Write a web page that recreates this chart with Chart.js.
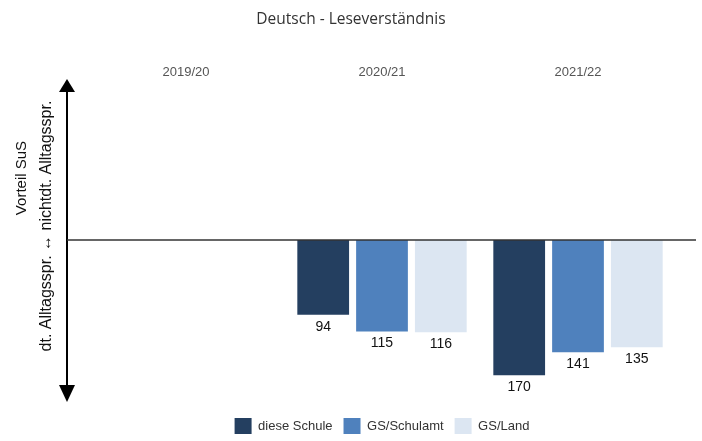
<!DOCTYPE html>
<html>
<head>
<meta charset="utf-8">
<script src="https://cdn.jsdelivr.net/npm/chart.js@4.4.1/dist/chart.umd.min.js"></script>
<style>
  html, body { margin: 0; padding: 0; background: #fff; }
  #wrap { width: 702px; height: 441px; position: relative; }
</style>
</head>
<body>
<div id="wrap"><canvas id="chart"></canvas></div>
<script>
// school years and results per group (no data for 2019/20)
const years = ['2019/20', '2020/21', '2021/22'];
const seriesNames = ['diese Schule', 'GS/Schulamt', 'GS/Land'];
const dieseSchule = [null, 94, 170];
const gsSchulamt = [null, 115, 141];
const gsLand = [null, 116, 135];
const seriesColors = ['#243f60', '#4f81bd', '#dce6f2'];

const yTitleTop = 'Vorteil SuS';
const yTitleBottom = 'dt. Alltagsspr. \u2194 nichtdt. Alltagsspr.';

// double arrow on the left (from -200 to 200) plus the zero line
const arrowAxis = {
    id: 'arrowAxis',
    afterDatasetsDraw(chart) {
        const ctx = chart.ctx;
        const area = chart.chartArea;
        const y = chart.scales.y;
        const ax = area.left - 21;
        const top = y.getPixelForValue(-200);
        const bottom = y.getPixelForValue(200);
        const zero = y.getPixelForValue(0);
        ctx.save();
        ctx.strokeStyle = '#000';
        ctx.fillStyle = '#000';
        ctx.lineWidth = 2;
        ctx.beginPath();
        ctx.moveTo(ax, top + 10);
        ctx.lineTo(ax, bottom - 10);
        ctx.stroke();
        // arrow heads
        ctx.beginPath();
        ctx.moveTo(ax, top - 2);
        ctx.lineTo(ax - 8, top + 11);
        ctx.lineTo(ax + 8, top + 11);
        ctx.closePath();
        ctx.fill();
        ctx.beginPath();
        ctx.moveTo(ax, bottom + 3);
        ctx.lineTo(ax - 8, bottom - 14);
        ctx.lineTo(ax + 8, bottom - 14);
        ctx.closePath();
        ctx.fill();
        // zero line
        ctx.strokeStyle = '#333';
        ctx.lineWidth = 1.5;
        ctx.beginPath();
        ctx.moveTo(ax, zero);
        ctx.lineTo(area.right + 20, zero);
        ctx.stroke();
        ctx.restore();
    }
};

// rotated two-line caption left of the arrow
const yCaption = {
    id: 'yCaption',
    afterDraw(chart) {
        const ctx = chart.ctx;
        const y = chart.scales.y;
        const zero = y.getPixelForValue(0);
        ctx.save();
        ctx.fillStyle = '#111';
        ctx.textAlign = 'center';
        ctx.textBaseline = 'middle';
        ctx.translate(y.left + 22, zero - 62);
        ctx.rotate(-Math.PI / 2);
        ctx.font = '15px "Liberation Sans", Arial, sans-serif';
        ctx.fillText(yTitleTop, 0, 0);
        ctx.restore();
        ctx.save();
        ctx.fillStyle = '#111';
        ctx.textAlign = 'center';
        ctx.textBaseline = 'middle';
        ctx.translate(y.left + 47, zero - 14);
        ctx.rotate(-Math.PI / 2);
        ctx.font = '16px "Liberation Sans", Arial, sans-serif';
        ctx.fillText(yTitleBottom, 0, 0);
        ctx.restore();
    }
};

// numbers under each bar
const barValues = {
    id: 'barValues',
    afterDatasetsDraw(chart) {
        const ctx = chart.ctx;
        ctx.save();
        ctx.font = '14px "Liberation Sans", Arial, sans-serif';
        ctx.fillStyle = '#111';
        ctx.textAlign = 'center';
        ctx.textBaseline = 'middle';
        chart.data.datasets.forEach(function (ds, i) {
            const meta = chart.getDatasetMeta(i);
            meta.data.forEach(function (bar, j) {
                const v = ds.data[j];
                if (v === null || v === undefined) return;
                ctx.fillText(String(v), bar.x, bar.y + 12);
            });
        });
        ctx.restore();
    }
};

const allSeries = [dieseSchule, gsSchulamt, gsLand];

new Chart(document.getElementById('chart'), {
    type: 'bar',
    data: {
        labels: years,
        datasets: allSeries.map(function (values, i) {
            return {
                label: seriesNames[i],
                data: values,
                backgroundColor: seriesColors[i],
                borderWidth: 0,
                barPercentage: 0.88,
                categoryPercentage: 0.9
            };
        })
    },
    options: {
        responsive: true,
        maintainAspectRatio: false,
        animation: false,
        layout: { padding: { left: 0, right: 0, top: 0, bottom: -3 } },
        scales: {
            x: {
                position: 'top',
                grid: { display: false, drawTicks: false },
                border: { display: false },
                ticks: {
                    color: '#555',
                    padding: 1,
                    font: { family: '"Liberation Sans", Arial, sans-serif', size: 13 }
                }
            },
            y: {
                reverse: true,
                min: -200,
                max: 210,
                grid: { display: false, drawTicks: false },
                border: { display: false },
                ticks: { display: false },
                afterFit: function (scale) { scale.width = 88; }
            },
            // empty strip on the right
            yRight: {
                position: 'right',
                grid: { display: false, drawTicks: false },
                border: { display: false },
                ticks: { display: false },
                afterFit: function (scale) { scale.width = 26; }
            }
        },
        plugins: {
            title: {
                display: true,
                text: 'Deutsch - Leseverständnis',
                color: '#333',
                font: { family: '"Open Sans", sans-serif', size: 15.5, weight: 'normal' },
                padding: { top: 10, bottom: 34.8 }
            },
            legend: {
                position: 'bottom',
                fullSize: false,
                labels: {
                    boxWidth: 17,
                    boxHeight: 16,
                    padding: 11,
                    color: '#333',
                    font: { family: '"Liberation Sans", Arial, sans-serif', size: 13 }
                }
            },
            tooltip: { enabled: false }
        }
    },
    plugins: [arrowAxis, barValues, yCaption]
});
</script>
</body>
</html>
